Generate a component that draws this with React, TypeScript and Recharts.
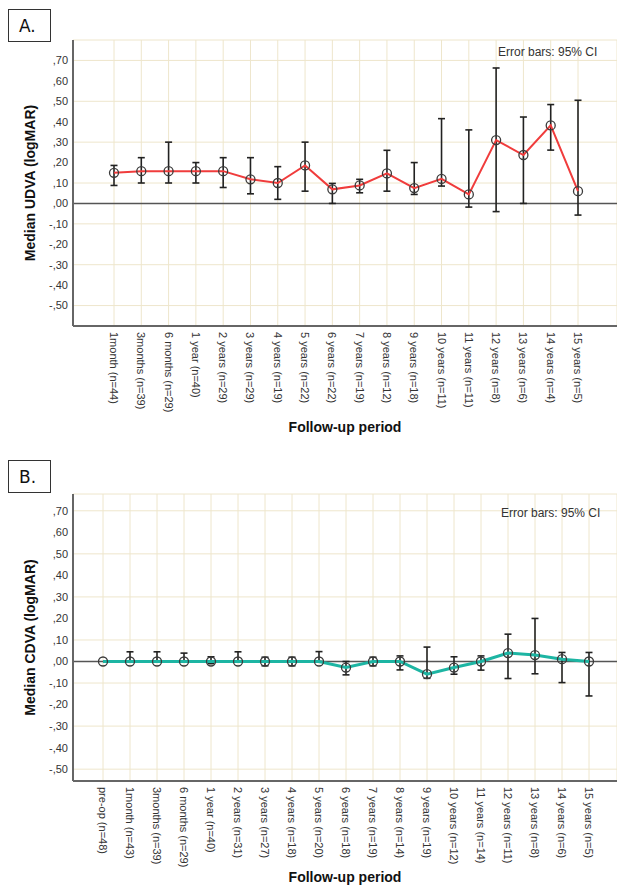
import React from 'react';
import { LineChart, Line, XAxis, YAxis, CartesianGrid, ErrorBar, ReferenceLine, Label } from 'recharts';

// Panel A: median UDVA
const labelsA = ['1month (n=44)', '3months (n=39)', '6 months (n=29)', '1 year (n=40)', '2 years (n=29)', '3 years (n=29)', '4 years (n=19)', '5 years (n=22)', '6 years (n=22)', '7 years (n=19)', '8 years (n=12)', '9 years (n=18)', '10 years (n=11)', '11 years (n=11)', '12 years (n=8)', '13 years (n=6)', '14 years (n=4)', '15 years (n=5)'];
const medianA = [0.15, 0.158, 0.158, 0.158, 0.158, 0.118, 0.10, 0.186, 0.069, 0.088, 0.147, 0.075, 0.12, 0.044, 0.31, 0.237, 0.382, 0.06];
const lowA = [0.088, 0.10, 0.10, 0.10, 0.078, 0.047, 0.02, 0.06, 0.0, 0.052, 0.06, 0.044, 0.085, -0.018, -0.04, 0.0, 0.261, -0.057];
const highA = [0.186, 0.224, 0.30, 0.20, 0.224, 0.224, 0.18, 0.30, 0.098, 0.118, 0.26, 0.20, 0.415, 0.36, 0.663, 0.423, 0.484, 0.505];

// Panel B: median CDVA
const labelsB = ['pre-op (n=48)', '1month (n=43)', '3months (n=39)', '6 months (n=29)', '1 year (n=40)', '2 years (n=31)', '3 years (n=27)', '4 years (n=18)', '5 years (n=20)', '6 years (n=18)', '7 years (n=19)', '8 years (n=14)', '9 years (n=19)', '10 years (n=12)', '11 years (n=14)', '12 years (n=11)', '13 years (n=8)', '14 years (n=6)', '15 years (n=5)'];
const medianB = [0, 0, 0, 0, 0, 0, 0, 0, 0, -0.028, 0, 0, -0.059, -0.028, 0, 0.039, 0.03, 0.011, 0];
const lowB: (number | null)[] = [null, 0, 0, 0, -0.01, 0, -0.02, -0.02, 0, -0.062, -0.02, -0.039, -0.078, -0.059, -0.04, -0.079, -0.057, -0.098, -0.16];
const highB: (number | null)[] = [null, 0.045, 0.045, 0.039, 0.022, 0.045, 0.02, 0.02, 0.046, 0.0, 0.02, 0.026, 0.067, 0.022, 0.026, 0.127, 0.2, 0.042, 0.042];

const yTicks = [-0.5, -0.4, -0.3, -0.2, -0.1, 0, 0.1, 0.2, 0.3, 0.4, 0.5, 0.6, 0.7];

const build = (labels: string[], med: number[], lo: (number | null)[], hi: (number | null)[]) =>
  labels.map((label, i) => ({
    label,
    value: med[i],
    err: lo[i] === null || hi[i] === null ? undefined : [med[i] - (lo[i] as number), (hi[i] as number) - med[i]],
  }));

const dataA = build(labelsA, medianA, lowA, highA);
const dataB = build(labelsB, medianB, lowB, highB);

const FONT = '"Liberation Sans", Arial, sans-serif';

const fmt = (v: number) => {
  const s = Math.abs(v).toFixed(2).slice(1).replace('.', ',');
  return (Math.abs(v) > 1e-9 && v < 0 ? '-' : '') + s;
};

const RotTick = (props: any) => {
  const { x, y, payload } = props;
  return (
    <text
      x={0}
      y={0}
      transform={`translate(${x},${y}) rotate(90)`}
      textAnchor="start"
      dominantBaseline="central"
      fontSize={11}
      fontFamily={FONT}
      fill="#333"
    >
      {payload.value}
    </text>
  );
};

const Dot = (props: any) => {
  const { cx, cy } = props;
  if (cx == null || cy == null) return null;
  return <circle cx={cx} cy={cy} r={4.5} fill="none" stroke="#3a3a3a" strokeWidth={1.3} />;
};

const frame = '#666';
const grid = '#EEE6CC';

type PanelProps = {
  data: any[];
  color: string;
  lineWidth: number;
  yLabel: string;
  height: number;
  top: number;
  xHeight: number;
  domain: [number, number];
  padL: number;
  padR: number;
  titleOffset: number;
};

const Panel = ({ data, color, lineWidth, yLabel, height, top, xHeight, domain, padL, padR, titleOffset }: PanelProps) => (
  <LineChart width={617} height={height} data={data} margin={{ top, right: 0, left: 8, bottom: 0 }}>
    <CartesianGrid stroke={grid} strokeWidth={1} />
    <XAxis
      dataKey="label"
      type="category"
      interval={0}
      padding={{ left: padL, right: padR }}
      height={xHeight}
      tickLine={false}
      tickSize={4}
      tickMargin={2}
      tick={<RotTick />}
      axisLine={{ stroke: frame, strokeWidth: 2 }}
    >
      <Label
        value="Follow-up period"
        position="insideBottom"
        offset={titleOffset}
        style={{ fontWeight: 'bold', fontSize: 14, fill: '#111', fontFamily: FONT }}
      />
    </XAxis>
    <XAxis
      xAxisId="top"
      orientation="top"
      dataKey="label"
      type="category"
      height={0}
      tick={false}
      tickLine={false}
      axisLine={{ stroke: frame, strokeWidth: 2 }}
    />
    <YAxis
      type="number"
      domain={domain}
      ticks={yTicks}
      allowDataOverflow
      width={65}
      tickLine={false}
      tickSize={3}
      tickMargin={2}
      tickFormatter={fmt}
      tick={{ fontSize: 11, fill: '#333', fontFamily: FONT }}
      axisLine={{ stroke: frame, strokeWidth: 2 }}
    >
      <Label
        value={yLabel}
        angle={-90}
        position="insideLeft"
        offset={22}
        style={{ textAnchor: 'middle', fontWeight: 'bold', fontSize: 14, fill: '#111', fontFamily: FONT }}
      />
    </YAxis>
    <ReferenceLine y={0} stroke="#555" strokeWidth={1.5} />
    <Line
      type="linear"
      dataKey="value"
      stroke={color}
      strokeWidth={lineWidth}
      dot={<Dot />}
      activeDot={false}
      isAnimationActive={false}
    >
      <ErrorBar dataKey="err" direction="y" width={3.5} stroke="#222" strokeWidth={1.6} />
    </Line>
  </LineChart>
);

const boxStyle: React.CSSProperties = {
  position: 'absolute',
  left: 8,
  width: 43,
  height: 33,
  border: '1px solid #333',
  fontFamily: '"DejaVu Sans", Verdana, sans-serif',
  fontSize: 17,
  lineHeight: '33px',
  paddingLeft: 10,
  boxSizing: 'border-box',
  color: '#111',
  background: '#fff',
};

const noteStyle: React.CSSProperties = {
  position: 'absolute',
  fontFamily: FONT,
  fontSize: 12,
  color: '#333',
  whiteSpace: 'nowrap',
};

export default function App() {
  return (
    <div style={{ position: 'absolute', left: 0, top: 0, width: 617, height: 886, background: '#fff', overflow: 'hidden' }}>
      <div style={{ position: 'absolute', left: 0, top: 0 }}>
        <Panel
          data={dataA}
          color="#F03C3C"
          lineWidth={2}
          yLabel="Median UDVA (logMAR)"
          height={440}
          top={40}
          xHeight={114}
          domain={[-0.6, 0.8]}
          padL={41}
          padR={39}
          titleOffset={8}
        />
      </div>
      <div style={{ position: 'absolute', left: 0, top: 440 }}>
        <Panel
          data={dataB}
          color="#1DB5A3"
          lineWidth={3}
          yLabel="Median CDVA (logMAR)"
          height={446}
          top={54}
          xHeight={105}
          domain={[-0.555, 0.778]}
          padL={30}
          padR={28}
          titleOffset={4}
        />
      </div>
      <div style={{ ...boxStyle, top: 9 }}>A.</div>
      <div style={{ ...boxStyle, top: 460 }}>B.</div>
      <div style={{ ...noteStyle, left: 498, top: 45 }}>Error bars: 95% CI</div>
      <div style={{ ...noteStyle, left: 501, top: 506 }}>Error bars: 95% CI</div>
    </div>
  );
}
